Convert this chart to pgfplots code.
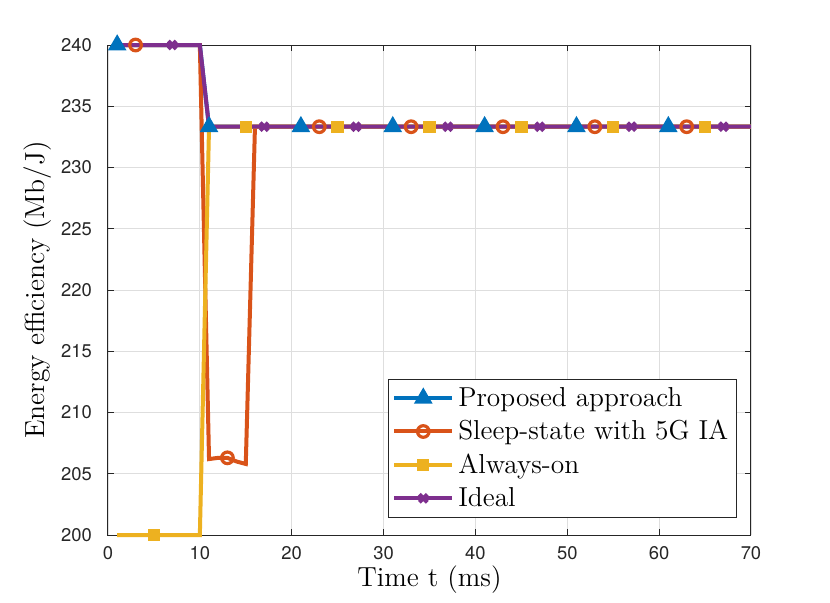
\documentclass[border=0pt]{standalone}
\usepackage{fontspec}
\usepackage{pgfplots}
\pgfplotsset{compat=1.18}
\newfontfamily\ticksf{TeX Gyre Heros}

\definecolor{mblue}{rgb}{0,0.447,0.741}
\definecolor{morange}{rgb}{0.85,0.325,0.098}
\definecolor{myellow}{rgb}{0.929,0.694,0.125}
\definecolor{mpurple}{rgb}{0.494,0.184,0.556}
\definecolor{axgray}{rgb}{0.15,0.15,0.15}

\begin{document}
\begin{tikzpicture}
\path[use as bounding box] (-54pt,-33.5pt) rectangle (361pt,267.5pt);
\begin{axis}[
    at={(0,0)}, anchor=south west,
    scale only axis,
    width=321.5pt, height=245pt,
    xmin=0, xmax=70, ymin=200, ymax=240,
    xtick={0,10,...,70},
    ytick={200,205,...,240},
    grid=major,
    major grid style={line width=0.4pt, draw=black!13},
    axis line style={draw=axgray, line width=0.5pt},
    tick style={draw=axgray, line width=0.5pt},
    tick align=inside,
    major tick length=3pt,
    clip=false,
    /pgf/number format/assume math mode=true,
    tick label style={font=\ticksf\fontsize{9.2}{10}\selectfont, text=axgray},
    xticklabel style={yshift=-2pt},
    yticklabel style={xshift=-4.5pt},
    xlabel={Time t (ms)},
    ylabel={Energy efficiency (Mb/J)},
    every axis x label/.style={at={(axis description cs:0.5,-0.092)}, anchor=center,
        font=\fontsize{13.8}{16}\selectfont},
    every axis y label/.style={at={(axis description cs:-0.109,0.5)}, rotate=90, anchor=center,
        font=\fontsize{13.8}{16}\selectfont},
    legend style={at={(0.978,0.035)}, anchor=south east, draw=axgray, line width=0.5pt,
        font=\fontsize{13.7}{17}\selectfont, row sep=1.5pt, inner sep=2pt},
    legend cell align=left,
    legend image code/.code={\draw[mark indices={2}] plot coordinates {(0pt,0pt) (14.5pt,0pt) (29pt,0pt)};},
    every axis plot/.append style={line width=2pt},
]
\addplot[mblue, mark=triangle*, mark size=4.6pt, mark options={solid, line width=0.8pt, fill=mblue},
    mark indices={1,3,4,5,6,7,8}] coordinates {
(1,240) (10,240) (11,233.33) (21,233.33) (31,233.33) (41,233.33) (51,233.33) (61,233.33) (70,233.33)
};
\addlegendentry{Proposed approach}

\addplot[morange, mark=o, mark size=2.9pt, mark options={solid, line width=1.6pt},
    mark indices={2,6,10,11,12,13,14}] coordinates {
(1,240) (3,240) (10,240) (11,206.2) (12,206.3) (13,206.3) (14,206.0) (15,205.8) (16,233.33)
(23,233.33) (33,233.33) (43,233.33) (53,233.33) (63,233.33) (70,233.33)
};
\addlegendentry{Sleep-state with 5G IA}

\addplot[myellow, mark=square*, mark size=2.8pt, mark options={solid, line width=0.6pt, fill=myellow},
    mark indices={2,5,6,7,8,9,10}] coordinates {
(1,200) (5,200) (10,200) (11,233.33) (15,233.33) (25,233.33) (35,233.33) (45,233.33) (55,233.33) (65,233.33) (70,233.33)
};
\addlegendentry{Always-on}

\addplot[mpurple, mark=x, mark size=2.8pt, mark options={solid, line width=2pt},
    mark indices={2,5,6,7,8,9,10}] coordinates {
(1,240) (7,240) (10,240) (11,233.33) (17,233.33) (27,233.33) (37,233.33) (47,233.33) (57,233.33) (67,233.33) (70,233.33)
};
\addlegendentry{Ideal}
\end{axis}
\end{tikzpicture}
\end{document}
